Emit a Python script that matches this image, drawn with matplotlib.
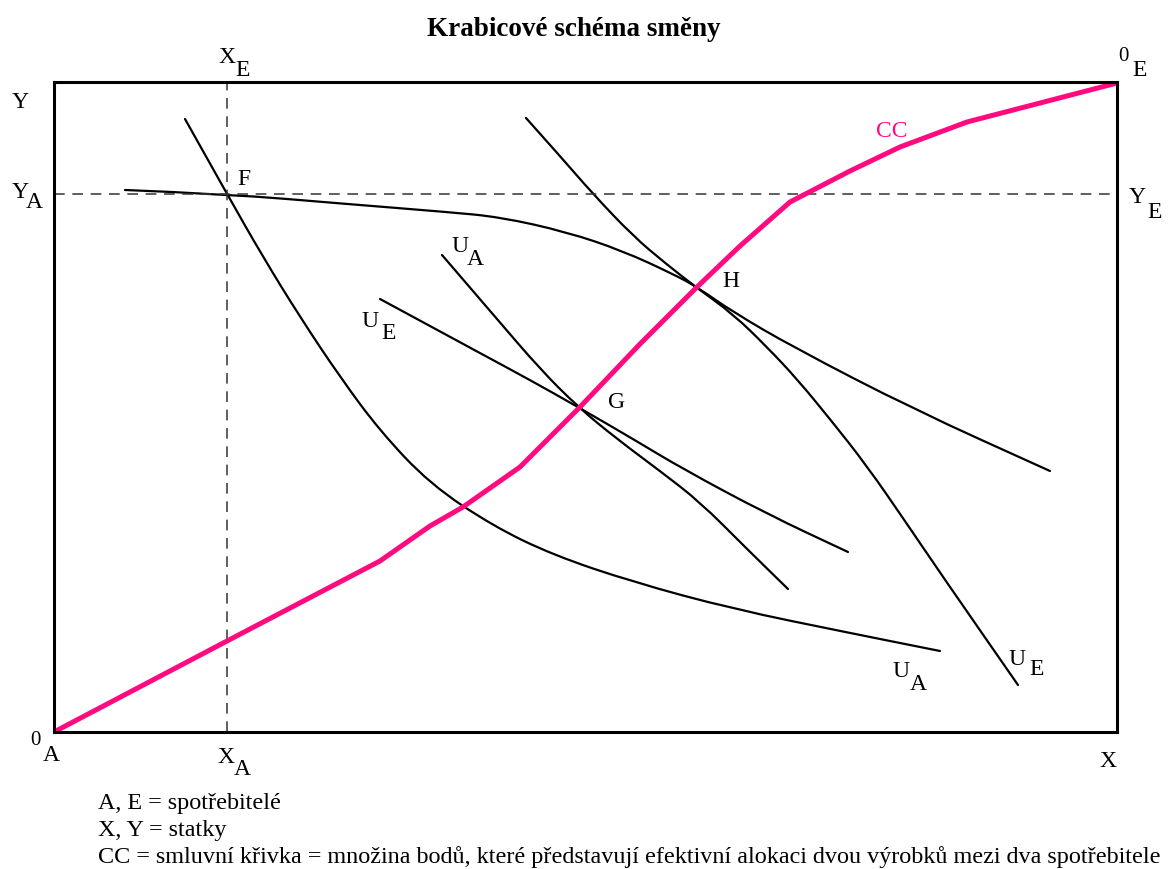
import matplotlib.pyplot as plt
from matplotlib.path import Path
from matplotlib.patches import PathPatch

# Edgeworth box: coordinates measured from 0_A (lower left), in box units
box_w = 1063
box_h = 650

# initial endowment F
xa = 173
ya = 538

# contract curve CC
cc_x = [0, 173, 326, 376, 409, 466, 526, 586, 643, 686, 736, 796, 846, 913, 1063]
cc_y = [0, 91, 171, 206, 225, 265, 325, 388, 445, 486, 530, 561, 585, 610, 649]

# indifference curve of A through F
ua1_x = [131, 173, 209, 246, 286, 326, 376, 439, 499, 579, 679, 796, 886]
ua1_y = [613, 538, 475, 415, 355, 301, 248, 206, 177, 150, 123, 99, 81]

# flat curve through F and H
ue1_x = [71, 173, 293, 393, 446, 513, 569, 619, 643, 679, 739, 859, 996]
ue1_y = [542, 538, 528, 520, 515, 500, 481, 458, 445, 420, 385, 323, 261]

# steep curve through H (U_E)
ua2_x = [472, 506, 539, 579, 611, 643, 679, 713, 743, 776, 813, 851, 889, 964]
ua2_y = [614, 576, 538, 496, 469, 444, 418, 385, 353, 313, 266, 211, 155, 47]

# curves tangent at G
ue2_x = [326, 376, 424, 476, 524, 579, 629, 713, 794]
ue2_y = [433, 406, 380, 352, 325, 293, 263, 218, 180]
ua3_x = [388, 443, 486, 524, 563, 606, 646, 691, 734]
ua3_y = [477, 413, 363, 325, 293, 261, 230, 185, 143]


def smooth(xs, ys):
    # quadratic bezier through midpoints, so the hand drawn curves look round
    pts = list(zip(xs, ys))
    verts = [pts[0]]
    codes = [Path.MOVETO]
    for i in range(1, len(pts) - 1):
        mid = ((pts[i][0] + pts[i + 1][0]) / 2, (pts[i][1] + pts[i + 1][1]) / 2)
        verts += [pts[i], mid]
        codes += [Path.CURVE3, Path.CURVE3]
    verts.append(pts[-1])
    codes.append(Path.LINETO)
    return Path(verts, codes)


fig = plt.figure(figsize=(11.71, 8.70), dpi=100)
ax = fig.add_axes([54 / 1171, 137 / 870, 1063 / 1171, 650 / 870])
ax.set_xlim(0, box_w)
ax.set_ylim(0, box_h)
ax.set_xticks([])
ax.set_yticks([])
for s in ax.spines.values():
    s.set_linewidth(2.2)
    s.set_color('black')

ax.plot([xa, xa], [0, box_h], color='#333333', lw=1.1, dashes=(7, 5))
ax.plot([0, box_w], [ya, ya], color='#333333', lw=1.1, dashes=(7, 5))

for cx, cy in [(ua1_x, ua1_y), (ue1_x, ue1_y), (ua2_x, ua2_y), (ue2_x, ue2_y), (ua3_x, ua3_y)]:
    ax.add_patch(PathPatch(smooth(cx, cy), fill=False, ec='black', lw=1.6, capstyle='round'))

ax.plot(cc_x, cc_y, color='#ff0a7f', lw=3.6, solid_joinstyle='round')

lf = dict(family='Liberation Serif', fontsize=17, ha='center', va='baseline')


def lab(x, y, main, sub=None, dx=16, dy=-13, color='black', size=17):
    ax.text(x, y, main, color=color, **dict(lf, fontsize=size))
    if sub:
        ax.text(x + dx, y + dy, sub, color=color, **lf)


lab(173, 670, 'X', 'E')
lab(-34, 625, 'Y')
lab(-34, 535, 'Y', 'A', dx=14, dy=-10)
lab(190, 548, 'F')
lab(1069, 672, '0', 'E', dx=17, dy=-15, size=15)
lab(1083, 530, 'Y', 'E', dx=18, dy=-15)
lab(-19, -12, '0', 'A', dy=-16, size=15)
lab(172, -30, 'X', 'A', dy=-12)
lab(1054, -34, 'X')
lab(406, 481, 'U', 'A', dx=15)
lab(316, 406, 'U', 'E', dx=19, dy=-12)
lab(563, 325, 'G')
lab(677, 446, 'H')
lab(838, 596, 'CC', color='#ff0a7f')
lab(847, 56, 'U', 'A', dx=17)
lab(963, 68, 'U', 'E', dx=20, dy=-10)

ax.text(520, 697, 'Krabicové schéma směny', family='Liberation Serif', fontsize=19.5,
        fontweight='bold', ha='center', va='baseline')

notes = ['A, E = spotřebitelé',
         'X, Y = statky',
         'CC = smluvní křivka = množina bodů, které představují efektivní alokaci dvou výrobků mezi dva spotřebitele']
for i, t in enumerate(notes):
    ax.text(44, -76 - 27 * i, t, family='Liberation Serif', fontsize=17.4, ha='left', va='baseline')

fig.savefig('out.png', dpi=100)
